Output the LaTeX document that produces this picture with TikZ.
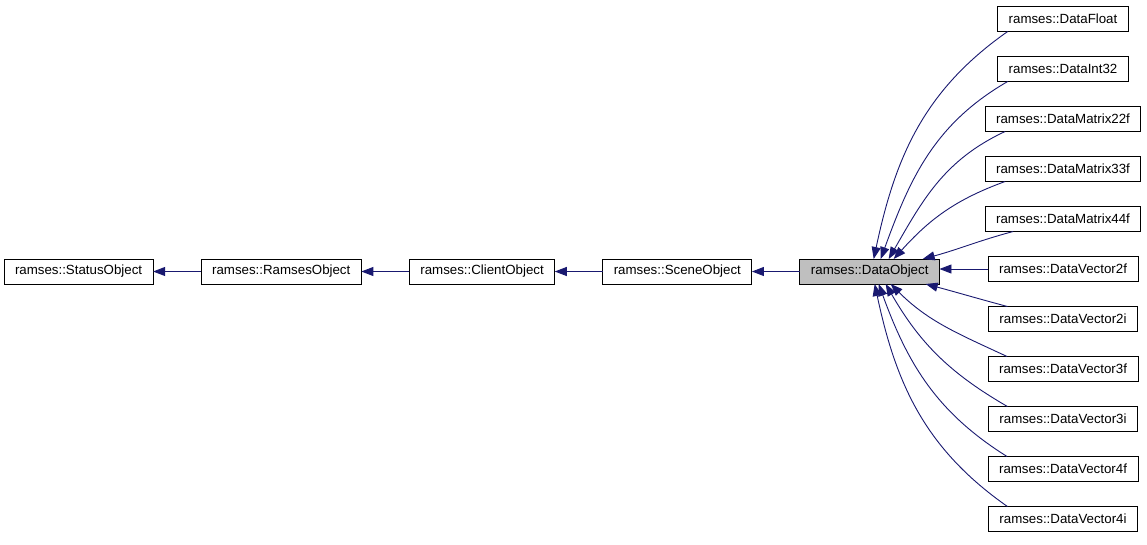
\documentclass[tikz,border=0pt]{standalone}
\usepackage{fontspec}
\setmainfont{Liberation Sans}
\usetikzlibrary{arrows.meta,positioning}
\definecolor{navyedge}{HTML}{191970}
\definecolor{hilite}{HTML}{BFBFBF}

\begin{document}
\begin{tikzpicture}[x=1pt,y=-1pt,>={Triangle[length=12pt,width=9pt]},
  box/.style={draw,line width=0.9pt,outer sep=0pt,minimum height=25pt,inner xsep=11pt,inner ysep=0pt,font=\fontsize{13.3}{16}\selectfont},
  edge/.style={draw=navyedge,line width=0.9pt,->}]
\useasboundingbox (0,0) rectangle (1147,544);
% inheritance chain
\node[box,anchor=west] (status) at (4,271.5) {ramses::StatusObject};
\node[box,right=48pt of status] (ramses) {ramses::RamsesObject};
\node[box,right=48pt of ramses] (client) {ramses::ClientObject};
\node[box,right=48pt of client] (scene) {ramses::SceneObject};
\node[box,fill=hilite,right=48pt of scene] (data) {ramses::DataObject};
% derived classes
\node[box] (dfloat) at (1063,19) {ramses::DataFloat};
\node[box,below=25pt of dfloat] (dint) {ramses::DataInt32};
\node[box,below=25pt of dint] (mat22) {ramses::DataMatrix22f};
\node[box,below=25pt of mat22] (mat33) {ramses::DataMatrix33f};
\node[box,below=25pt of mat33] (mat44) {ramses::DataMatrix44f};
\node[box,below=25pt of mat44] (vec2f) {ramses::DataVector2f};
\node[box,below=25pt of vec2f] (vec2i) {ramses::DataVector2i};
\node[box,below=25pt of vec2i] (vec3f) {ramses::DataVector3f};
\node[box,below=25pt of vec3f] (vec3i) {ramses::DataVector3i};
\node[box,below=25pt of vec3i] (vec4f) {ramses::DataVector4f};
\node[box,below=25pt of vec4f] (vec4i) {ramses::DataVector4i};
\draw[edge] (ramses)--(status); \draw[edge] (client)--(ramses); \draw[edge] (scene)--(client); \draw[edge] (data)--(scene);
\draw[edge] ([xshift=10pt]dfloat.south west) to[out=215,in=78] ([xshift=4pt]data.north);
\draw[edge] ([xshift=10pt]dint.south west) to[out=210,in=70] ([xshift=11pt]data.north);
\draw[edge] ([xshift=20pt]mat22.south west) to[out=205,in=60] ([xshift=19pt]data.north);
\draw[edge] ([xshift=20pt]mat33.south west) to[out=200,in=48] ([xshift=24pt]data.north);
\draw[edge] ([xshift=28pt]mat44.south west) to[out=195,in=15] ([xshift=53pt]data.north);
\draw[edge] (vec2f.west) -- (vec2f.west -| data.east);
\draw[edge] ([xshift=19pt]vec2i.north west) to[out=165,in=-15] ([xshift=56pt]data.south);
\draw[edge] ([xshift=19pt]vec3f.north west) to[out=155,in=-45] ([xshift=21pt]data.south);
\draw[edge] ([xshift=19pt]vec3i.north west) to[out=150,in=-60] ([xshift=16pt]data.south);
\draw[edge] ([xshift=19pt]vec4f.north west) to[out=148,in=-70] ([xshift=9pt]data.south);
\draw[edge] ([xshift=19pt]vec4i.north west) to[out=145,in=-78] ([xshift=5pt]data.south);
\end{tikzpicture}
\end{document}
